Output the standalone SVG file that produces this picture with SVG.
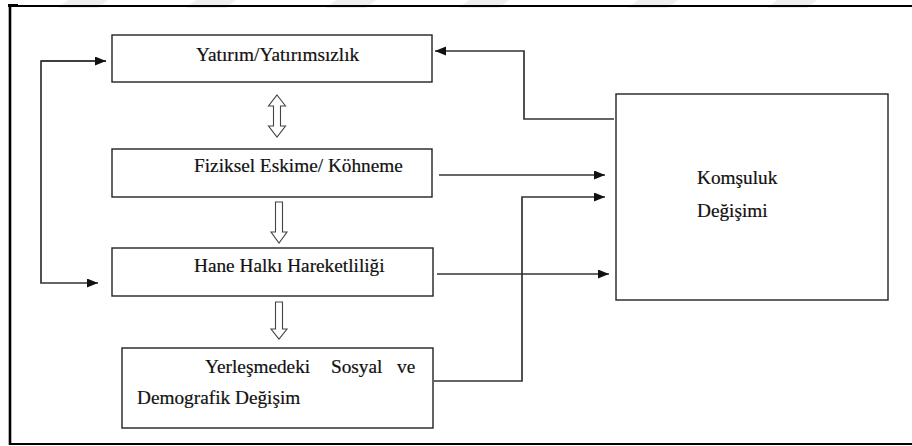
<svg xmlns="http://www.w3.org/2000/svg" width="912" height="446" viewBox="0 0 912 446">
<defs>
<style>
.box{fill:#fff;stroke:#222;stroke-width:1.4}
.lbl{font-family:'Liberation Serif','DejaVu Serif',serif;font-size:19.3px;fill:#111;stroke:#111;stroke-width:0.2}
.con{fill:none;stroke:#333;stroke-width:1.7}
.hollow{fill:#fff;stroke:#444;stroke-width:1.1}
.wm{fill:#efefef}
</style>
<marker id="ah" markerUnits="userSpaceOnUse" markerWidth="12" markerHeight="10" refX="11" refY="4.5" orient="auto">
<path d="M0,0 L11,4.5 L0,9 z" fill="#111"/>
</marker>
</defs>
<rect width="912" height="446" fill="#fff"/>
<g id="watermark">
<polygon class="wm" points="68,0 108,0 98,8 58,8"/>
<polygon class="wm" points="196,0 236,0 226,8 186,8"/>
<polygon class="wm" points="336,0 376,0 366,8 326,8"/>
<polygon class="wm" points="469,0 509,0 499,8 459,8"/>
<polygon class="wm" points="638,0 678,0 668,8 628,8"/>
<polygon class="wm" points="777,0 817,0 807,8 767,8"/>
</g>
<g id="frame" fill="none" stroke="#000">
<line x1="9" y1="6" x2="912" y2="6" stroke-width="2.2"/>
<line x1="10" y1="5" x2="10" y2="445" stroke-width="2.6"/>
<line x1="9" y1="444" x2="912" y2="444" stroke-width="2.2"/>
<rect x="8" y="4" width="10" height="3" fill="#000" stroke="none"/>
</g>
<g id="n1">
<rect class="box" x="112" y="35" width="320" height="47"/>
<text class="lbl" x="196" y="61">Yatırım/Yatırımsızlık</text>
</g>
<g id="n2">
<rect class="box" x="112" y="149" width="320" height="48"/>
<text class="lbl" x="194" y="172">Fiziksel Eskime/ Köhneme</text>
</g>
<g id="n3">
<rect class="box" x="112" y="248" width="321" height="48"/>
<text class="lbl" x="194" y="272">Hane Halkı Hareketliliği</text>
</g>
<g id="n4">
<rect class="box" x="122" y="348" width="311" height="80"/>
<text class="lbl" y="373"><tspan x="205">Yerleşmedeki</tspan><tspan x="331">Sosyal</tspan><tspan x="397">ve</tspan></text>
<text class="lbl" x="137" y="404">Demografik Değişim</text>
</g>
<g id="n5">
<rect class="box" x="616" y="94" width="272" height="206"/>
<text class="lbl" x="697" y="184">Komşuluk</text>
<text class="lbl" x="697" y="217">Değişimi</text>
</g>
<g id="hollow-arrows">
<path class="hollow" d="M277,95 L285.5,106 L280.5,106 L280.5,126 L285.5,126 L277,137 L268.5,126 L273.5,126 L273.5,106 L268.5,106 Z"/>
<path class="hollow" d="M275.5,202 L282.5,202 L282.5,232 L287,232 L279,243 L271,232 L275.5,232 Z"/>
<path class="hollow" d="M275.5,302 L282.5,302 L282.5,329 L287,329 L279,339 L271,329 L275.5,329 Z"/>
</g>
<g id="connectors">
<path class="con" d="M106,61 H41 V283 H98" marker-end="url(#ah)"/>
<path class="con" d="M41,61 H106" marker-end="url(#ah)"/>
<path class="con" d="M614,119 H524 V51 H435" marker-end="url(#ah)"/>
<path class="con" d="M439,175 H605" marker-end="url(#ah)"/>
<path class="con" d="M434,381 H522 V197 H605" marker-end="url(#ah)"/>
<path class="con" d="M437,274 H609" marker-end="url(#ah)"/>
</g>
</svg>
